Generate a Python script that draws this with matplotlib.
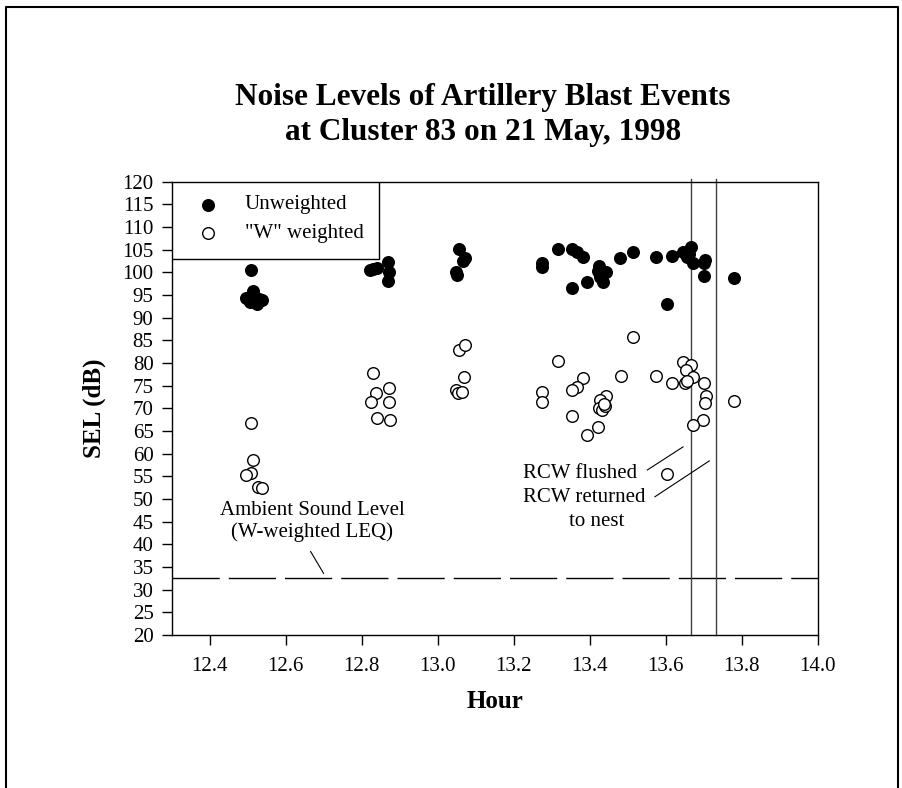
import numpy as np
import matplotlib
matplotlib.use('Agg')
from matplotlib import pyplot as plt
from matplotlib.lines import Line2D
import matplotlib.patches as patches

plt.rcParams['font.family'] = ['Liberation Serif', 'DejaVu Serif']
plt.rcParams['lines.scale_dashes'] = False

# unweighted SEL (filled dots)
unw_hour = [12.510, 12.515, 12.497, 12.506, 12.525, 12.537, 12.530,
            12.822, 12.830, 12.840, 12.870, 12.872, 12.870,
            13.057, 13.072, 13.066, 13.048, 13.050,
            13.274, 13.275, 13.317, 13.353, 13.366, 13.382, 13.353, 13.392,
            13.425, 13.443, 13.427, 13.436, 13.422, 13.480, 13.515,
            13.574, 13.616, 13.605, 13.646, 13.666, 13.657, 13.673, 13.662,
            13.703, 13.700, 13.700, 13.780]
unw_sel = [100.5, 95.8, 94.3, 93.4, 93.0, 93.8, 94.2,
           100.5, 100.8, 101.0, 102.2, 100.0, 98.2,
           105.1, 103.1, 102.4, 100.1, 99.4,
           102.0, 101.2, 105.1, 105.1, 104.6, 103.5, 96.5, 97.9,
           101.3, 100.1, 99.0, 97.9, 100.2, 103.1, 104.6,
           103.5, 103.7, 93.0, 104.6, 105.7, 103.3, 102.0, 104.0,
           102.7, 102.0, 99.2, 98.7]

# "W" weighted SEL (open circles)
w_hour = [12.509, 12.515, 12.510, 12.497, 12.528, 12.537,
          12.831, 12.837, 12.826, 12.873, 12.872, 12.840, 12.874,
          13.057, 13.073, 13.069, 13.048, 13.054, 13.063,
          13.317, 13.276, 13.276, 13.382, 13.367, 13.353, 13.353, 13.392,
          13.423, 13.443, 13.427, 13.425, 13.433, 13.440, 13.437, 13.482, 13.515,
          13.574, 13.616, 13.646, 13.666, 13.654, 13.671, 13.652, 13.657,
          13.700, 13.706, 13.703, 13.698, 13.672, 13.780, 13.605]
w_sel = [66.8, 58.6, 55.7, 55.3, 52.7, 52.4,
         77.7, 73.3, 71.5, 74.4, 71.5, 67.9, 67.4,
         82.9, 84.0, 77.0, 74.0, 73.3, 73.7,
         80.5, 73.7, 71.3, 76.6, 74.6, 74.0, 68.3, 64.1,
         65.8, 72.7, 71.8, 70.0, 69.6, 70.5, 71.0, 77.2, 85.7,
         77.2, 75.7, 80.2, 79.6, 78.5, 77.0, 75.5, 76.0,
         75.5, 72.7, 71.2, 67.4, 66.3, 71.7, 55.5]

ambient_leq = 32.5
rcw_flushed = 13.666
rcw_returned = 13.733

xticks = [12.4, 12.6, 12.8, 13.0, 13.2, 13.4, 13.6, 13.8, 14.0]
yticks = list(range(20, 121, 5))

fig = plt.figure(figsize=(9.03, 7.88), dpi=100)
ax = fig.add_axes([0.190, 0.1942, 0.7154, 0.5752])

ax.scatter(unw_hour, unw_sel, s=70, c='black', edgecolors='black', linewidths=1, zorder=3)
ax.scatter(w_hour, w_sel, s=70, facecolors='white', edgecolors='black', linewidths=1, zorder=3)

# ambient level
ax.axhline(ambient_leq, color='black', lw=1.0, dashes=(34, 6.5), zorder=2)

# RCW events
for xv in (rcw_flushed, rcw_returned):
    ax.plot([xv, xv], [20, 120.6], color='#404040', lw=1.0, clip_on=False, zorder=2)

ax.set_xlim(12.3, 14.0)
ax.set_ylim(20, 120)
ax.set_xticks(xticks)
ax.set_xticklabels(['%.1f' % t for t in xticks])
ax.set_yticks(yticks)
for sp in ax.spines.values():
    sp.set_linewidth(1.0)
ax.tick_params(axis='both', direction='out', length=7, width=1, labelsize=15)
ax.tick_params(axis='y', pad=6)
ax.tick_params(axis='x', pad=9)

ax.set_xlabel('Hour', fontsize=18, fontweight='bold', labelpad=10)
ax.set_ylabel('SEL (dB)', fontsize=18, fontweight='bold', labelpad=12)

# legend box drawn by hand
leg_top = 120
leg_bottom = 102.9
leg_right = 12.846
ax.add_patch(patches.Rectangle((12.3, leg_bottom), leg_right - 12.3, leg_top - leg_bottom,
                               facecolor='white', edgecolor='black', lw=1.0, zorder=4))
ax.scatter([12.396], [114.9], s=70, c='black', zorder=5)
ax.scatter([12.396], [108.6], s=70, facecolors='white', edgecolors='black', linewidths=1, zorder=5)
ax.text(12.493, 114.9, 'Unweighted', fontsize=15, va='center', ha='left', zorder=5)
ax.text(12.493, 108.6, '"W" weighted', fontsize=15, va='center', ha='left', zorder=5)

# annotations
ax.text(12.67, 47.5, 'Ambient Sound Level', fontsize=15, ha='center', va='center')
ax.text(12.67, 42.6, '(W-weighted LEQ)', fontsize=15, ha='center', va='center')
ax.plot([12.666, 12.70], [38.4, 33.6], color='black', lw=0.8)

ax.text(13.225, 55.7, 'RCW flushed', fontsize=15, ha='left', va='center')
ax.text(13.225, 50.4, 'RCW returned', fontsize=15, ha='left', va='center')
ax.text(13.345, 45.1, 'to nest', fontsize=15, ha='left', va='center')
ax.plot([13.552, 13.646], [56.4, 61.5], color='black', lw=0.8)
ax.plot([13.572, 13.715], [50.5, 58.4], color='black', lw=0.8)

fig.text(0.535, 1 - 115 / 788, 'Noise Levels of Artillery Blast Events\nat Cluster 83 on 21 May, 1998',
         fontsize=22.5, fontweight='bold', ha='center', va='center', linespacing=1.25)

# outer frame
W, H = 903.0, 788.0
fig.add_artist(Line2D([6 / W, 6 / W, 898 / W, 898 / W], [-0.01, 1 - 7 / H, 1 - 7 / H, -0.01],
                      color='black', lw=1.5, transform=fig.transFigure))

fig.savefig('out.png', dpi=100)
